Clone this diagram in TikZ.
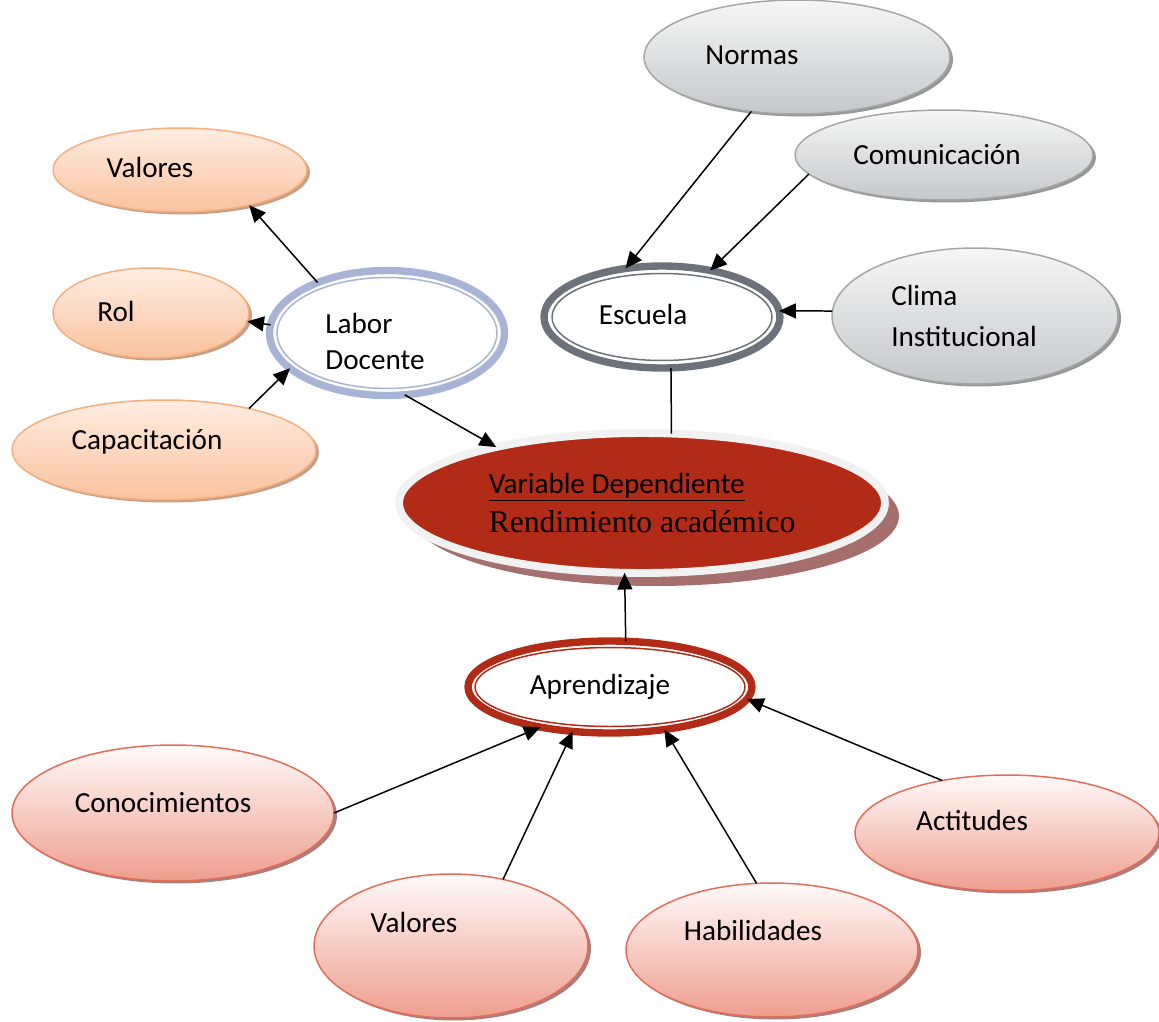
\documentclass[tikz,border=0pt]{standalone}
\usepackage{fontspec}
\setmainfont{Carlito}
\newfontfamily\timesf{Liberation Serif}
\usepackage{tikz}
\usetikzlibrary{shapes.geometric,arrows.meta,shadows}
\definecolor{grisborde}{HTML}{A6A6A6}
\definecolor{gristop}{HTML}{F6F6F6}
\definecolor{grisbot}{HTML}{C6C7C9}
\definecolor{grissombra}{HTML}{8C8C8C}
\definecolor{narborde}{HTML}{F6AE7E}
\definecolor{nartop}{HTML}{FEEDE2}
\definecolor{narbot}{HTML}{FAC29E}
\definecolor{narsombra}{HTML}{BE9478}
\definecolor{rosaborde}{HTML}{E46D5A}
\definecolor{rosatop}{HTML}{FFFAF9}
\definecolor{rosabot}{HTML}{EE9E8E}
\definecolor{rosasombra}{HTML}{9C7171}
\definecolor{rojo}{HTML}{B22B17}
\definecolor{rojosombra}{HTML}{A46F6D}
\definecolor{borde}{HTML}{F1F1F1}
\definecolor{azul}{HTML}{A8B4D6}
\definecolor{pizarra}{HTML}{6D7179}
\tikzset{
  burbuja/.style={ellipse, inner sep=0pt, outer sep=0pt, font=\fontsize{16.6}{20}\selectfont},
  gris/.style={burbuja, draw=grisborde, line width=0.85pt, top color=gristop, bottom color=grisbot,
    drop shadow={shadow xshift=0.06cm, shadow yshift=-0.05cm, fill=grissombra, opacity=0.9}},
  naranja/.style={burbuja, draw=narborde, line width=0.85pt, top color=nartop, bottom color=narbot,
    drop shadow={shadow xshift=0.06cm, shadow yshift=-0.05cm, fill=narsombra, opacity=0.9}},
  rosa/.style={burbuja, draw=rosaborde, line width=0.85pt, top color=rosatop, bottom color=rosabot,
    drop shadow={shadow xshift=0.06cm, shadow yshift=-0.05cm, fill=rosasombra, opacity=0.9}},
  anillo/.style={burbuja, draw=#1, line width=4.2pt, fill=white},
  interior/.style={draw=#1, line width=0.85pt},
  principal/.style={burbuja, draw=borde, line width=4.5pt, fill=rojo, align=left,
    font=\fontsize{16.6}{22}\selectfont,
    drop shadow={shadow xshift=0.28cm, shadow yshift=-0.26cm, fill=rojosombra, opacity=1}},
  texto/.style={font=\fontsize{16.6}{20.5}\selectfont, align=left, inner sep=0pt},
  flecha/.style={draw=black, line width=0.85pt, -{Triangle[length=9.5pt,width=8.5pt]}},
  linea/.style={draw=black, line width=0.85pt},
}
\begin{document}
\begin{tikzpicture}[x=0.02cm, y=-0.02cm]
  \useasboundingbox (0,0) rectangle (1159,1021);
  % escuela
  \node[gris, minimum width=6.12cm, minimum height=2.28cm,
    label={[texto, xshift=-0.9cm, yshift=0.04cm]center:Normas}] (normas) at (797,57) {};
  \node[gris, minimum width=5.96cm, minimum height=1.80cm,
    label={[texto, xshift=-0.14cm]center:Comunicación}] (comunic) at (944,155) {};
  \node[gris, minimum width=5.72cm, minimum height=2.72cm,
    label={[texto, xshift=-0.22cm]center:Clima\\[2.5pt]Institucional}] (clima) at (975,316) {};
  \node[anillo=pizarra, minimum width=4.72cm, minimum height=2.04cm,
    label={[texto, xshift=-0.38cm, yshift=0.06cm]center:Escuela}] (escuela) at (662,317) {};
  \draw[interior=pizarra] (escuela.center) ellipse (2.20cm and 0.87cm);
  % labor docente
  \node[naranja, minimum width=5.08cm, minimum height=1.68cm,
    label={[texto, xshift=-0.6cm, yshift=0.06cm]center:Valores}] (valL) at (180,170) {};
  \node[naranja, minimum width=3.92cm, minimum height=1.80cm,
    label={[texto, xshift=-0.7cm, yshift=0.04cm]center:Rol}] (rol) at (151,313) {};
  \node[naranja, minimum width=6.08cm, minimum height=2.00cm,
    label={[texto, xshift=-0.34cm, yshift=0.16cm]center:Capacitación}] (capac) at (164,450) {};
  \node[anillo=azul, minimum width=4.70cm, minimum height=2.50cm,
    label={[texto, xshift=-0.24cm, yshift=-0.16cm]center:Labor\\Docente}] (labor) at (387,333) {};
  \draw[interior=azul] (labor.center) ellipse (2.20cm and 1.11cm);
  % variable dependiente
  \node[principal, minimum width=9.72cm, minimum height=2.80cm] (main) at (642,503)
    {\underline{Variable Dependiente}\\{\timesf\fontsize{18}{22}\selectfont Rendimiento académico}};
  % aprendizaje
  \node[anillo=rojo, minimum width=5.68cm, minimum height=1.84cm,
    label={[texto, xshift=-0.2cm]center:Aprendizaje}] (aprend) at (610,687) {};
  \draw[interior=rojo] (aprend.center) ellipse (2.70cm and 0.79cm);
  \node[rosa, minimum width=6.44cm, minimum height=2.72cm,
    label={[texto, xshift=-0.2cm, yshift=0.2cm]center:Conocimientos}] (conoc) at (173,813) {};
  \node[rosa, minimum width=5.48cm, minimum height=2.88cm,
    label={[texto, xshift=-0.74cm, yshift=0.48cm]center:Valores}] (valB) at (451,946) {};
  \node[rosa, minimum width=5.84cm, minimum height=2.68cm,
    label={[texto, xshift=-0.38cm, yshift=0.4cm]center:Habilidades}] (habil) at (772,950) {};
  \node[rosa, minimum width=6.08cm, minimum height=2.32cm,
    label={[texto, xshift=-0.7cm, yshift=0.26cm]center:Actitudes}] (actit) at (1007,833) {};
  % conectores
  \foreach \a/\b in {labor.144/valL.333, labor.176/rol.355, capac.26/labor.200,
      labor.286/main.159, normas.230/escuela.127, comunic.188/escuela.44,
      clima.178/escuela.3, aprend.71/main.256, conoc.0/aprend.210,
      valB.52/aprend.230, habil.103/aprend.322, actit.141/aprend.355}
    \draw[flecha] (\a) -- (\b);
  \draw[linea] (escuela.280) -- (main.67);
\end{tikzpicture}
\end{document}
